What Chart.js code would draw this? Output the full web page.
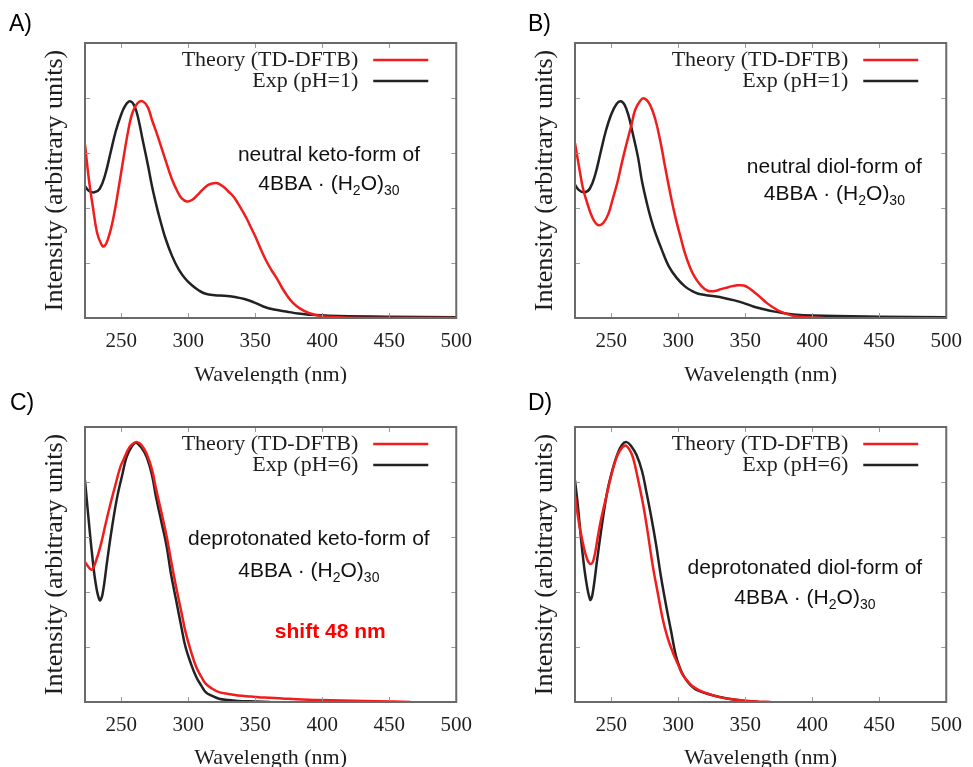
<!DOCTYPE html>
<html>
<head>
<meta charset="utf-8">
<script src="https://cdn.jsdelivr.net/npm/chart.js@4.4.1/dist/chart.umd.min.js"></script>
<style>
  body { margin: 0; background: #fff; }
  #wrap { position: relative; width: 973px; height: 767px; overflow: hidden; }
  canvas { position: absolute; }
</style>
</head>
<body>
<div id="wrap">
  <canvas id="pA" width="483" height="384" style="left:0;top:0"></canvas>
  <canvas id="pB" width="483" height="384" style="left:490px;top:0"></canvas>
  <canvas id="pC" width="483" height="383" style="left:0;top:384px"></canvas>
  <canvas id="pD" width="483" height="383" style="left:490px;top:384px"></canvas>
</div>
<script>
/* DATA  (wavelength nm, intensity in plot units 0..1) */
const xTicks = [250, 300, 350, 400, 450, 500];
const yTicks = [0.2, 0.4, 0.6, 0.8];
const panelLabels = ["A)", "B)", "C)", "D)"];
const theoryLabel = "Theory (TD-DFTB)";
const expLabels = ["Exp (pH=1)", "Exp (pH=1)", "Exp (pH=6)", "Exp (pH=6)"];
const noteLines = ["neutral keto-form of", "neutral diol-form of",
                   "deprotonated keto-form of", "deprotonated diol-form of"];
const formulaParts = [["4BBA \u00b7 (H", 0], ["2", 1], ["O)", 0], ["30", 1]];
const shiftNote = "shift 48 nm";

const theoryA = [[223,0.63],[226,0.5],[229,0.4],[232,0.31],[235,0.27],[237,0.26],[240,0.285],[244,0.36],
  [248,0.47],[251,0.56],[255,0.675],[258,0.74],[262,0.78],[266,0.788],[270,0.765],[273,0.72],[277,0.665],
  [281,0.605],[285,0.545],[288,0.503],[292,0.46],[295,0.436],[299,0.424],[303,0.43],[307,0.448],[311,0.468],
  [315,0.484],[319,0.49],[322,0.49],[326,0.478],[330,0.46],[334,0.44],[337,0.418],[341,0.385],[344,0.358],
  [347,0.327],[350,0.297],[354,0.252],[358,0.21],[362,0.175],[366,0.145],[370,0.11],[374,0.08],[378,0.056],
  [383,0.036],[390,0.018],[400,0.006],[420,0.001],[450,0],[500,0]];
const expA = [[223,0.479],[226,0.462],[230,0.457],[234,0.47],[238,0.52],[242,0.6],[246,0.68],[250,0.74],
  [253,0.772],[256.5,0.788],[260,0.77],[263,0.72],[266,0.648],[270,0.555],[273,0.479],[277,0.395],[280,0.34],
  [283,0.29],[288,0.225],[293,0.176],[298,0.142],[303,0.118],[308,0.1],[313,0.088],[320,0.083],[327,0.081],
  [335,0.076],[342,0.069],[349,0.057],[356,0.042],[364,0.031],[373,0.024],[382,0.016],[390,0.012],[405,0.008],
  [450,0.005],[500,0.003]];

const theoryB = [[223,0.636],[226,0.55],[229,0.47],[232,0.42],[236,0.365],[240,0.339],[244,0.345],[248,0.38],
  [251,0.43],[255,0.5],[258,0.565],[261,0.625],[265,0.7],[268,0.758],[272,0.792],[275,0.798],[279,0.775],
  [283,0.721],[287,0.635],[290,0.555],[294,0.455],[298,0.365],[302,0.29],[305,0.236],[309,0.182],[312,0.152],
  [317,0.118],[322,0.099],[327,0.098],[332,0.105],[338,0.113],[344,0.119],[349,0.118],[353,0.108],[356,0.097],
  [361,0.077],[366,0.055],[371,0.038],[376,0.024],[382,0.013],[388,0.006],[395,0.003],[409,0]];
const expB = [[223,0.485],[226,0.465],[230,0.457],[234,0.47],[238,0.52],[242,0.6],[246,0.68],[250,0.74],
  [254,0.778],[257,0.788],[260,0.775],[263,0.735],[266,0.673],[270,0.585],[273,0.497],[277,0.41],[280,0.355],
  [283,0.309],[288,0.245],[293,0.188],[299,0.145],[305,0.115],[310,0.099],[315,0.088],[321,0.083],[327,0.079],
  [334,0.073],[342,0.064],[349,0.054],[356,0.042],[364,0.032],[371,0.024],[378,0.018],[386,0.013],[400,0.009],
  [450,0.005],[500,0.003]];

const theoryC = [[223,0.509],[225,0.495],[228,0.481],[231,0.51],[235,0.576],[238,0.64],[242,0.721],[246,0.795],
  [249.4,0.855],[253,0.895],[256,0.925],[259,0.94],[262,0.945],[265,0.935],[269,0.903],[273,0.845],[276,0.775],
  [280,0.69],[284,0.6],[287,0.52],[291,0.418],[295,0.325],[298,0.255],[302,0.185],[306,0.127],[310,0.09],
  [313,0.067],[318,0.048],[323,0.036],[330,0.029],[337,0.024],[347,0.02],[357,0.016],[370,0.013],[381,0.01],
  [406,0.006],[440,0.003],[466,0]];
const expC = [[223,0.806],[225,0.7],[228,0.55],[231,0.43],[234,0.37],[236,0.39],[239.6,0.515],[243,0.63],
  [247,0.745],[251,0.83],[254,0.891],[258,0.93],[261,0.943],[265,0.925],[269,0.891],[273,0.825],[276,0.745],
  [280,0.655],[284,0.564],[287,0.47],[291,0.37],[295,0.27],[298,0.2],[302,0.14],[306,0.091],[310,0.058],
  [313,0.036],[318,0.022],[323,0.012],[330,0.007],[337,0.004],[350,0.002],[361,0]];

const theoryD = [[223,0.751],[226,0.65],[229,0.575],[232,0.52],[234.7,0.502],[237,0.52],[240,0.6],[242,0.654],
  [246,0.74],[249.4,0.812],[253,0.875],[256,0.91],[260.4,0.933],[264,0.915],[266.5,0.885],[270,0.81],
  [274,0.714],[277,0.625],[281,0.496],[285,0.39],[288.5,0.301],[292,0.235],[296,0.18],[300,0.135],[303,0.101],
  [307,0.076],[310.5,0.058],[315,0.044],[320,0.034],[326,0.024],[332.5,0.016],[340,0.01],[347,0.006],
  [358,0.002],[369,0]];
const expD = [[223,0.806],[225,0.72],[228,0.57],[231,0.45],[234.3,0.372],[236,0.39],[239.6,0.52],[243,0.64],
  [247,0.763],[251,0.845],[254.3,0.897],[258,0.935],[261.6,0.945],[265,0.93],[269,0.897],[273,0.84],
  [276.3,0.763],[280,0.67],[283.6,0.569],[287,0.46],[291,0.35],[295,0.25],[298.3,0.168],[302,0.115],
  [305.6,0.083],[309,0.062],[313,0.046],[318,0.036],[322.8,0.028],[330,0.019],[337.4,0.012],[348,0.005],[360,0]];

/* STYLE */
const RED = "#f21c1c", BLACK = "#222222", FRAME = "#6a6a6a";
const SERIF = "'Liberation Serif', 'Times New Roman', serif";
const SANS = "'Liberation Sans', Arial, sans-serif";

/* note positions in data units: [x nm, y line1, y line2] */
const panels = [
  { id: "pA", theory: theoryA, exp: expA, note: [405, 0.593, 0.49], label: [9, 25] },
  { id: "pB", theory: theoryB, exp: expB, note: [416.5, 0.549, 0.455], label: [38, 25] },
  { id: "pC", theory: theoryC, exp: expC, note: [390, 0.593, 0.48], label: [10, 20], shift: [406, 0.255] },
  { id: "pD", theory: theoryD, exp: expD, note: [394.5, 0.487, 0.382], label: [38, 20] }
];

const toXY = arr => arr.map(p => ({ x: p[0], y: p[1] }));

function drawFormula(ctx, cx, cy) {
  const big = "21px " + SANS, small = "14px " + SANS;
  let w = 0;
  formulaParts.forEach(p => { ctx.font = p[1] ? small : big; w += ctx.measureText(p[0]).width; });
  let x = cx - w / 2;
  ctx.textAlign = "left";
  ctx.textBaseline = "alphabetic";
  formulaParts.forEach(p => {
    ctx.font = p[1] ? small : big;
    ctx.fillText(p[0], x, cy + 7 + (p[1] ? 5 : 0));
    x += ctx.measureText(p[0]).width;
  });
}

/* frame, inward ticks, key, notes */
const decor = {
  id: "decor",
  afterDraw(chart, args, o) {
    const ctx = chart.ctx, a = chart.chartArea;
    const xs = chart.scales.x, ys = chart.scales.y;
    ctx.save();

    ctx.strokeStyle = "#9a9a9a";
    ctx.lineWidth = 1;
    ctx.beginPath();
    xTicks.forEach(v => {
      const px = Math.round(xs.getPixelForValue(v)) + 0.5;
      ctx.moveTo(px, a.bottom); ctx.lineTo(px, a.bottom - 5);
      ctx.moveTo(px, a.top); ctx.lineTo(px, a.top + 5);
    });
    yTicks.forEach(v => {
      const py = Math.round(ys.getPixelForValue(v)) + 0.5;
      ctx.moveTo(a.left, py); ctx.lineTo(a.left + 5, py);
      ctx.moveTo(a.right, py); ctx.lineTo(a.right - 5, py);
    });
    ctx.stroke();

    ctx.strokeStyle = FRAME;
    ctx.lineWidth = 2;
    ctx.strokeRect(a.left, a.top, a.right - a.left, a.bottom - a.top);

    // key
    ctx.font = "22px " + SERIF;
    ctx.fillStyle = "#1e1e1e";
    ctx.textAlign = "right";
    ctx.textBaseline = "middle";
    [[theoryLabel, RED, 17], [o.expLabel, BLACK, 38]].forEach(r => {
      ctx.fillText(r[0], a.right - 98, a.top + r[2]);
      ctx.strokeStyle = r[1];
      ctx.lineWidth = 2.5;
      ctx.beginPath();
      ctx.moveTo(a.right - 83, a.top + r[2]);
      ctx.lineTo(a.right - 28, a.top + r[2]);
      ctx.stroke();
    });

    // notes
    ctx.fillStyle = "#111";
    ctx.font = "21px " + SANS;
    ctx.textAlign = "center";
    const nx = xs.getPixelForValue(o.note[0]);
    ctx.fillText(o.noteText, nx, ys.getPixelForValue(o.note[1]));
    drawFormula(ctx, nx, ys.getPixelForValue(o.note[2]));

    if (o.shift) {
      ctx.font = "bold 21px " + SANS;
      ctx.fillStyle = "#ff0000";
      ctx.textAlign = "center";
      ctx.textBaseline = "middle";
      ctx.fillText(shiftNote, xs.getPixelForValue(o.shift[0]), ys.getPixelForValue(o.shift[1]));
    }

    // panel letter
    ctx.font = "23px " + SANS;
    ctx.fillStyle = "#000";
    ctx.textAlign = "left";
    ctx.textBaseline = "middle";
    ctx.fillText(o.letter, o.label[0], o.label[1]);
    ctx.restore();
  }
};

panels.forEach((p, i) => {
  const canvas = document.getElementById(p.id);
  const h = canvas.height;
  new Chart(canvas, {
    type: "line",
    data: {
      datasets: [
        { label: theoryLabel, data: toXY(p.theory), borderColor: RED, borderWidth: 2.5 },
        { label: expLabels[i], data: toXY(p.exp), borderColor: BLACK, borderWidth: 2.5 }
      ]
    },
    options: {
      responsive: false,
      animation: false,
      events: [],
      elements: { point: { radius: 0 }, line: { tension: 0.4 } },
      layout: { padding: { top: 43, right: 20, left: 0, bottom: 0 } },
      scales: {
        x: {
          type: "linear", min: 223, max: 500,
          grid: { display: false, drawTicks: false },
          border: { display: false },
          afterBuildTicks: s => { s.ticks = xTicks.map(v => ({ value: v })); },
          afterFit: s => { s.height = h - 318; },
          ticks: { padding: 11, color: "#1e1e1e", font: { family: SERIF, size: 21 } },
          title: { display: true, text: "Wavelength (nm)", color: "#1e1e1e",
                   padding: { top: 0, bottom: -4 }, font: { family: SERIF, size: 22 } }
        },
        y: {
          min: 0, max: 1,
          grid: { display: false, drawTicks: false },
          border: { display: false },
          ticks: { display: false },
          afterFit: s => { s.width = 85; },
          title: { display: true, text: "Intensity (arbitrary units)", color: "#1e1e1e",
                   padding: { top: 40, bottom: 0 }, font: { family: SERIF, size: 26 } }
        }
      },
      plugins: {
        legend: { display: false },
        tooltip: { enabled: false },
        decor: { expLabel: expLabels[i], noteText: noteLines[i], note: p.note,
                 shift: p.shift, letter: panelLabels[i], label: p.label }
      }
    },
    plugins: [decor]
  });
});
</script>
</body>
</html>
